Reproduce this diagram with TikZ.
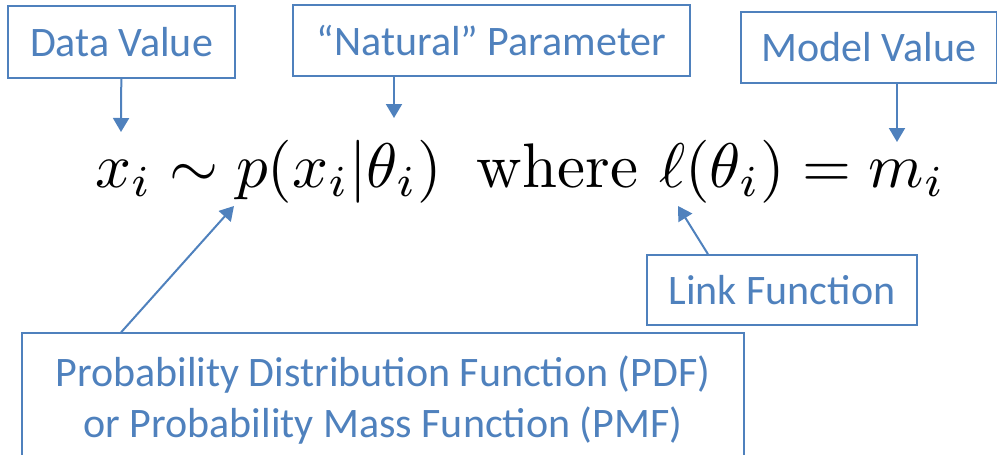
\documentclass[tikz,border=0pt]{standalone}
\usepackage{amsmath}
\usepackage{graphicx}
\usepackage{fontspec}
\newfontfamily\calibri{Carlito}
\usepackage{tikz}
\usetikzlibrary{arrows.meta}
\usetikzlibrary{calc}
\definecolor{officeblue}{RGB}{79,129,189}

\tikzset{
  tagbox/.style={draw=officeblue, line width=1.6pt, text=officeblue, inner sep=0pt,
    align=center, font=\calibri\fontsize{42}{51}\selectfont},
  callout/.style={color=officeblue, line width=2pt, -{Triangle[width=16pt,length=14pt]}}
}

\begin{document}
\begin{tikzpicture}[x=1pt,y=-1pt]
\useasboundingbox (0,0) rectangle (997,455);
%equation
\node[anchor=base west, inner sep=0pt] (eq) at (95,187)
  {\scalebox{6.3}{$x_i \sim p(x_i|\theta_i)\;\;\text{where}\ \ell(\theta_i) = m_i$}};
\coordinate (xtip) at (121,132);
\coordinate (thetatip) at (394,118);
\coordinate (mtip) at (897,142);
\coordinate (ptip) at (234,206);
\coordinate (elltip) at (678,206);
%labels
\node[tagbox, minimum width=227pt, minimum height=72pt] (datav) at (121.5,42) {Data Value};
\node[tagbox, minimum width=397pt, minimum height=71pt] (natp) at (491.5,40.5) {“Natural” Parameter};
\node[tagbox, minimum width=256pt, minimum height=71pt] (modelv) at (869,47.5) {Model Value};
\node[tagbox, minimum width=270pt, minimum height=70pt] (linkf) at (782,290) {Link Function};
\node[tagbox, minimum width=722pt, minimum height=134pt] (pdf) at (383,400)
  {Probability Distribution Function (PDF)\\or Probability Mass Function (PMF)};
%\path[->]
\path[callout]
(datav) edge (xtip)
(natp.south -| thetatip) edge (thetatip)
(modelv.south -| mtip) edge (mtip)
([xshift=100pt]pdf.north west) edge (ptip)
([xshift=-74pt]linkf.north) edge (elltip)
;
\end{tikzpicture}
\end{document}
